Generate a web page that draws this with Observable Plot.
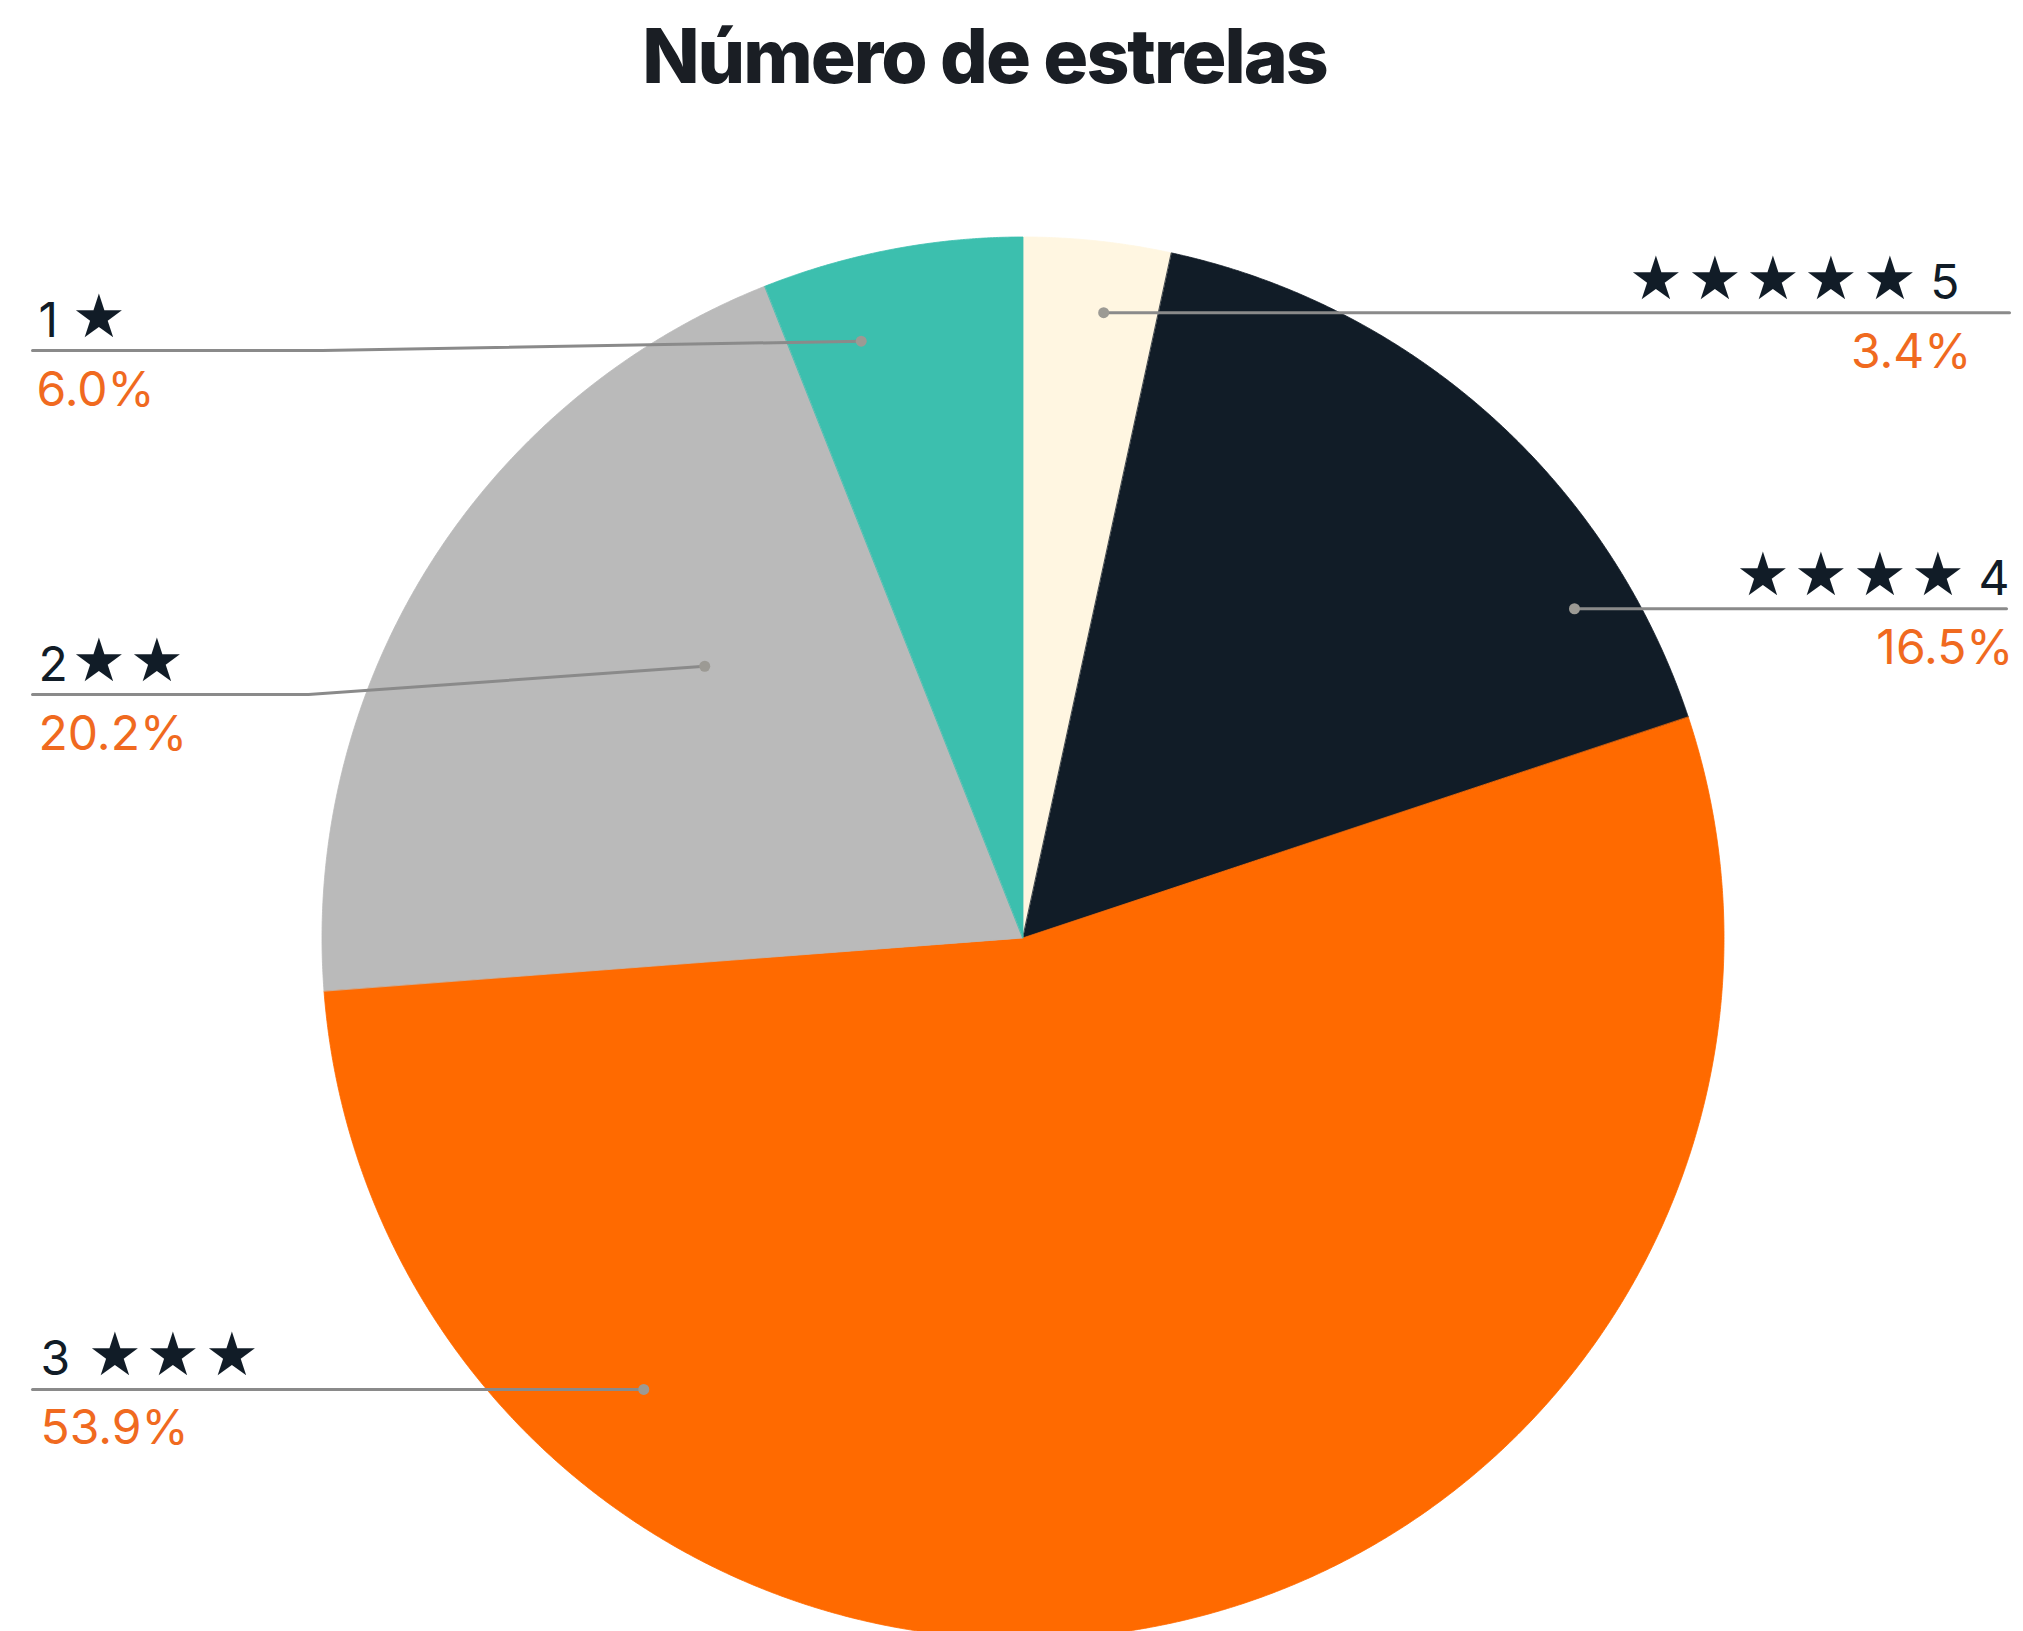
<!DOCTYPE html>
<html>
<head>
<meta charset="utf-8">
<script src="https://cdn.jsdelivr.net/npm/d3@7"></script>
<script src="https://cdn.jsdelivr.net/npm/@observablehq/plot@0.6"></script>
<style>
  @font-face {
    font-family: "StarGlyph";
    src: local("DejaVu Sans"), local("DejaVuSans");
    unicode-range: U+2605;
    size-adjust: 125%;
  }
  html, body { margin: 0; padding: 0; background: #ffffff; }
  #title {
    width: 2023px; height: 150px; box-sizing: border-box;
    padding-top: 18px; padding-right: 54px;
    text-align: center;
    font-family: Inter, "Noto Sans", sans-serif;
    font-weight: 800; font-size: 75px; line-height: 1;
    color: #1a1e24; letter-spacing: -2px;
  }
  #chart svg { display: block; }
</style>
</head>
<body>
<div id="title">Número de estrelas</div>
<div id="chart"></div>
<script>
// ---- data ----
const categories = ["5", "4", "3", "2", "1"];            // number of stars, clockwise from 12 o'clock
const shares = [3.4, 16.5, 53.9, 20.2, 6.0];               // percent
const percentLabels = ["3.4%", "16.5%", "53.9%", "20.2%", "6.0%"];
const starLabels = [
  "★\u200A★\u200A★\u200A★\u200A★ 5",
  "★\u200A★\u200A★\u200A★ 4",
  "3 \u200A★\u200A★\u200A★",
  "2\u200A★\u200A★",
  "1 ★"
];
const sliceColors = ["#fff6e1", "#111c27", "#ff6a00", "#bababa", "#3cbfae"];

// ---- layout (annotation placement) ----
const W = 2023, H = 1481;
const cx = 1023, cy = 788, R = 701;
const labelLayout = [
  {side: "right", dotAngle: 7.3,   dotR: 0.900, elbowX: null, lineY: null, lineEndX: 2009, textX: 1959, pctX: 1971},
  {side: "right", dotAngle: 59.1,  dotR: 0.916, elbowX: null, lineY: null, lineEndX: 2006, textX: 2009, pctX: 2013},
  {side: "left",  dotAngle: 220.1, dotR: 0.841, elbowX: null, lineY: null, lineEndX: 32,   textX: 40,   pctX: 40},
  {side: "left",  dotAngle: 310.5, dotR: 0.598, elbowX: 308,  lineY: 544,  lineEndX: 32,   textX: 38,   pctX: 38},
  {side: "left",  dotAngle: 344.8, dotR: 0.883, elbowX: 322,  lineY: 200,  lineEndX: 32,   textX: 38,   pctX: 36}
];
const FS = 48;

// ---- slices from the data ----
const arcs = d3.pie().sort(null).value(d => d)(shares);
const sliceRows = [];
arcs.forEach((a, i) => {
  const n = Math.max(4, Math.ceil((a.endAngle - a.startAngle) / (Math.PI / 720)));
  for (let k = 0; k <= n; k++) {
    const t = a.startAngle + (a.endAngle - a.startAngle) * k / n;
    sliceRows.push({cat: categories[i], cx, cy, x: cx + R * Math.sin(t), y: cy - R * Math.cos(t)});
  }
});

// ---- annotations ----
const dotRows = [], leaderRows = [], textRows = [];
labelLayout.forEach((L, i) => {
  const th = L.dotAngle * Math.PI / 180;
  const dx = cx + R * L.dotR * Math.sin(th);
  const dy = cy - R * L.dotR * Math.cos(th);
  dotRows.push({cat: categories[i], x: dx, y: dy});
  const lineY = L.lineY == null ? dy : L.lineY;
  leaderRows.push({cat: categories[i], x: dx, y: dy});
  if (L.elbowX != null) leaderRows.push({cat: categories[i], x: L.elbowX, y: lineY});
  leaderRows.push({cat: categories[i], x: L.lineEndX, y: lineY});
  textRows.push({side: L.side, kind: "stars", x: L.textX, y: lineY - 14 - 0.32 * FS, text: starLabels[i]});
  textRows.push({side: L.side, kind: "pct", x: L.pctX, y: lineY + 55 - 0.32 * FS, text: percentLabels[i]});
});

const textFont = "StarGlyph, Inter, 'DejaVu Sans', sans-serif";
const textMark = (side, kind) => Plot.text(textRows.filter(d => d.side === side && d.kind === kind), {
  x: "x", y: "y", text: "text",
  textAnchor: side === "left" ? "start" : "end",
  lineAnchor: "middle",
  fontSize: FS,
  fontFamily: textFont,
  fill: kind === "pct" ? "#f06a1f" : "#111c27"
});

const chart = Plot.plot({
  width: W, height: H,
  margin: 0,
  x: {type: "identity", axis: null},
  y: {type: "identity", axis: null},
  color: {domain: categories, range: sliceColors},
  style: {background: "#ffffff", fontFamily: textFont},
  marks: [
    Plot.area(sliceRows, {x1: "cx", y1: "cy", x2: "x", y2: "y", z: "cat", fill: "cat", stroke: "cat", strokeWidth: 0.8}),
    Plot.line(leaderRows, {x: "x", y: "y", z: "cat", stroke: "#8a8a8a", strokeWidth: 3}),
    Plot.dot(dotRows, {x: "x", y: "y", r: 5.5, fill: "#9c9a94"}),
    textMark("left", "stars"), textMark("left", "pct"),
    textMark("right", "stars"), textMark("right", "pct")
  ]
});
document.getElementById("chart").appendChild(chart);
</script>
</body>
</html>
